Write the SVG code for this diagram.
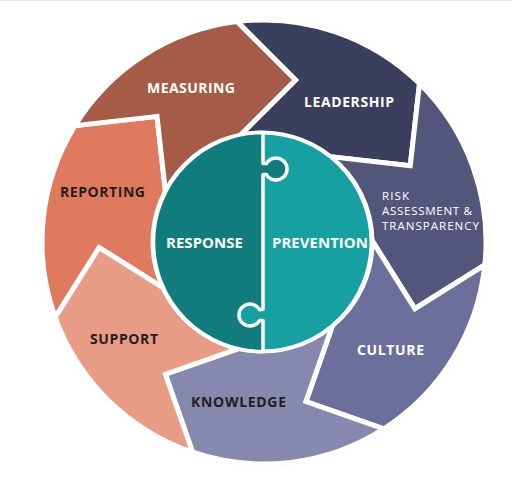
<svg xmlns="http://www.w3.org/2000/svg" width="512" height="502" viewBox="0 0 512 502">
  <style>
    .seg { stroke: #ffffff; stroke-width: 5; stroke-linejoin: miter; }
    .lbl { font-family: "Open Sans", "Liberation Sans", sans-serif; font-weight: 700; font-size: 14px; text-anchor: middle; }
    .lt { fill: #ffffff; }
    .dk { fill: #231f20; }
    .risk { font-family: "Open Sans", "Liberation Sans", sans-serif; font-weight: 500; font-size: 11.6px; fill: #ffffff; }
    .core { font-family: "Open Sans", "Liberation Sans", sans-serif; font-weight: 700; font-size: 15px; text-anchor: middle; fill: #ffffff; }
  </style>
  <rect x="0" y="0" width="512" height="502" fill="#ffffff"/>
  <line x1="0" y1="0.5" x2="512" y2="0.5" stroke="#e6e6e6" stroke-width="1"/>
  <circle cx="264" cy="242" r="224.5" fill="none" stroke="#f4f4f4" stroke-width="1"/>

  <g id="connectors"></g>

  <g id="leadership">
    <path class="seg" fill="#3c3e5e" d="M237.09,21.64 A222,222 0 0 1 419.52,83.58 L410.27,165.64 L330.12,156.61 A108,108 0 0 0 238.44,137.07 L295.48,80.03 Z"/>
    <text class="lbl lt" x="349" y="107" textLength="90" lengthAdjust="spacing">LEADERSHIP</text>
  </g>
  <g id="risk-assessment">
    <path class="seg" fill="#54557a" d="M419.52,83.58 A222,222 0 0 1 484.83,264.81 L414.91,308.74 L372.0,240.45 A108,108 0 0 0 330.12,156.61 L410.27,165.64 Z"/>
    <text class="risk" x="382" y="200" textLength="27" lengthAdjust="spacing">RISK</text>
    <text class="risk" x="382" y="215" textLength="90" lengthAdjust="spacing">ASSESSMENT &amp;</text>
    <text class="risk" x="382" y="230" textLength="97" lengthAdjust="spacing">TRANSPARENCY</text>
  </g>
  <g id="culture">
    <path class="seg" fill="#6c6f9c" d="M484.83,264.81 A222,222 0 0 1 383.86,428.87 L305.91,401.59 L332.55,325.46 A108,108 0 0 0 372.0,240.45 L414.91,308.74 Z"/>
    <text class="lbl lt" x="390.5" y="355" textLength="67" lengthAdjust="spacing">CULTURE</text>
  </g>
  <g id="knowledge">
    <path class="seg" fill="#8688ae" d="M383.86,428.87 A222,222 0 0 1 192.63,452.21 L165.35,374.26 L241.48,347.62 A108,108 0 0 0 332.55,325.46 L305.91,401.59 Z"/>
    <text class="lbl dk" x="238.5" y="407" textLength="95" lengthAdjust="spacing">KNOWLEDGE</text>
  </g>
  <g id="support">
    <path class="seg" fill="#e89b85" d="M192.63,452.21 A222,222 0 0 1 55.15,317.27 L99.08,247.35 L167.37,290.26 A108,108 0 0 0 241.48,347.62 L165.35,374.26 Z"/>
    <text class="lbl dk" x="124" y="344" textLength="68" lengthAdjust="spacing">SUPPORT</text>
  </g>
  <g id="reporting">
    <path class="seg" fill="#e07a5f" d="M55.15,317.27 A222,222 0 0 1 74.95,125.64 L157.01,116.39 L166.04,196.54 A108,108 0 0 0 167.37,290.26 L99.08,247.35 Z"/>
    <text class="lbl dk" x="102.5" y="197" textLength="85" lengthAdjust="spacing">REPORTING</text>
  </g>
  <g id="measuring">
    <path class="seg" fill="#a55b45" d="M74.95,125.64 A222,222 0 0 1 237.09,21.64 L295.48,80.03 L238.44,137.07 A108,108 0 0 0 166.04,196.54 L157.01,116.39 Z"/>
    <text class="lbl lt" x="191" y="93" textLength="88" lengthAdjust="spacing">MEASURING</text>
  </g>

  <g id="prevention">
    <circle cx="262" cy="242" r="109.5" fill="#16a0a1" stroke="#ffffff" stroke-width="4"/>
    <text class="core" x="320" y="248" textLength="96" lengthAdjust="spacing">PREVENTION</text>
  </g>
  <g id="response">
    <path fill="#107c7c" stroke="#ffffff" stroke-width="3.5" stroke-linejoin="round" d="M263,132.5 V163.5 H266.5 A11,11 0 1 1 266.5,174.5 H263 V309.5 H259.5 A11,11 0 1 0 259.5,320.5 H263 V351.5 A109.5,109.5 0 1 1 263,132.5 Z"/>
    <text class="core" x="204.5" y="248" textLength="77" lengthAdjust="spacing">RESPONSE</text>
  </g>
</svg>
